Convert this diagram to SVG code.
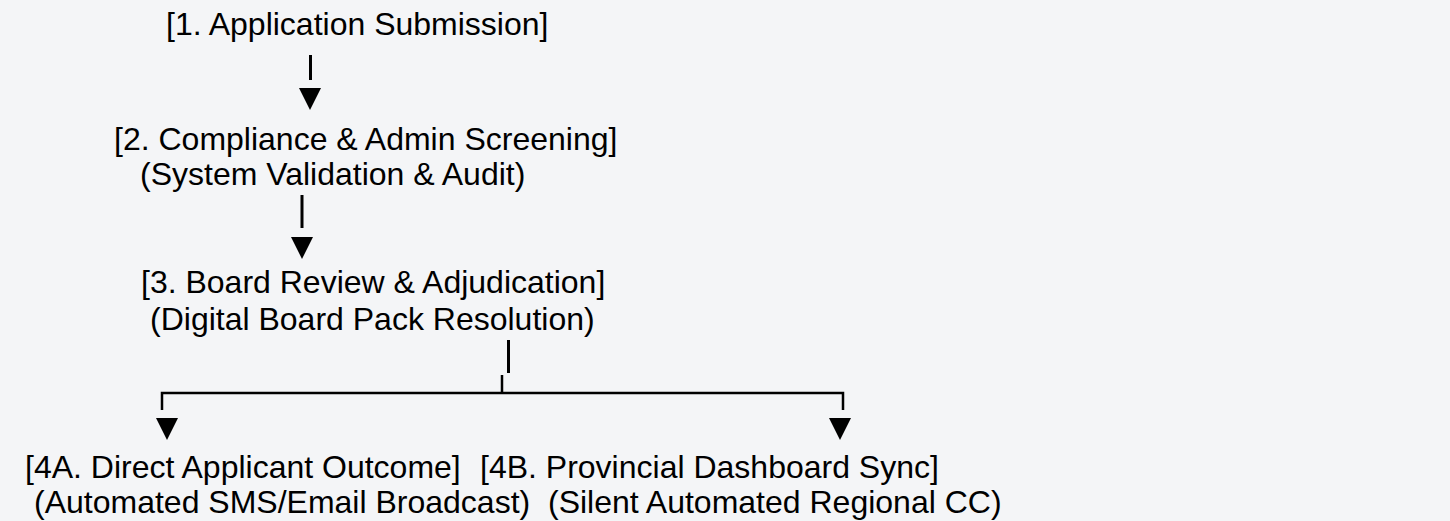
<svg xmlns="http://www.w3.org/2000/svg" width="1450" height="521" viewBox="0 0 1450 521">
<style>
.t{font-family:"Liberation Sans",Arial,sans-serif;font-size:32px;fill:#000}
.ln{stroke:#000;stroke-width:3;fill:none}
.bx{stroke:#000;stroke-width:2.5;fill:none}
.ah{fill:#000}
</style>
<rect width="1450" height="521" fill="#f4f5f7"/>
<g id="node1"><text class="t" x="166" y="35">[1. Application Submission]</text></g>
<g id="node2"><text class="t" x="114" y="150">[2. Compliance &amp; Admin Screening]</text><text class="t" x="140" y="185">(System Validation &amp; Audit)</text></g>
<g id="node3"><text class="t" x="141" y="293">[3. Board Review &amp; Adjudication]</text><text class="t" x="150" y="330">(Digital Board Pack Resolution)</text></g>
<g id="node4a"><text class="t" x="25" y="478">[4A. Direct Applicant Outcome]</text><text class="t" x="34" y="513">(Automated SMS/Email Broadcast)</text></g>
<g id="node4b"><text class="t" x="480" y="478">[4B. Provincial Dashboard Sync]</text><text class="t" x="548" y="513">(Silent Automated Regional CC)</text></g>
<g id="connectors">
<line class="ln" x1="310.5" y1="55" x2="310.5" y2="80"/>
<polygon class="ah" points="299,88 321,88 310,110"/>
<line class="ln" x1="302" y1="195" x2="302" y2="228"/>
<polygon class="ah" points="291,237 313,237 302,259"/>
<line class="ln" x1="508.5" y1="340" x2="508.5" y2="373"/>
<line class="bx" x1="502" y1="375" x2="502" y2="393"/>
<path class="bx" d="M162 410 V393 H843 V410"/>
<polygon class="ah" points="156,418 178,418 167,440"/>
<polygon class="ah" points="829,418 851,418 840,440"/>
</g>
</svg>
